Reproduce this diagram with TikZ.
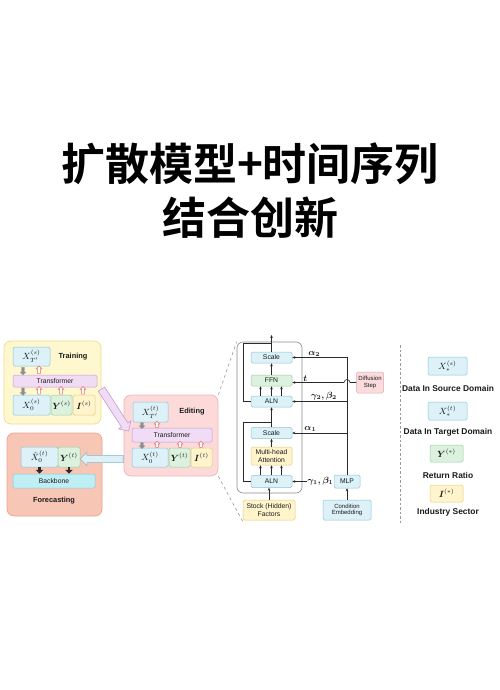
\documentclass[tikz,border=0pt]{standalone}
\usepackage{amsmath}
\usepackage{fontspec}
\setmainfont{Liberation Sans}
\newfontfamily\cjkfont{Noto Sans CJK SC}[BoldFont={Noto Sans CJK SC Bold}]
\definecolor{Bluecol}{HTML}{DCF1F8}
\definecolor{Blueline}{HTML}{8DC3D4}
\definecolor{Greencol}{HTML}{DCF2DE}
\definecolor{Greenline}{HTML}{98CDA0}
\definecolor{Yelcol}{HTML}{FFF4CC}
\definecolor{Yelline}{HTML}{E5CC7A}
\definecolor{Purpcol}{HTML}{F1DCF5}
\definecolor{Purpline}{HTML}{C79AD3}
\definecolor{Cyancol}{HTML}{BFEEF4}
\definecolor{Cyanline}{HTML}{86CBD5}
\definecolor{Traincol}{HTML}{FFF8CE}
\definecolor{Trainline}{HTML}{F2D98E}
\definecolor{Editcol}{HTML}{FCDADA}
\definecolor{Editline}{HTML}{F3B5B5}
\definecolor{Forecol}{HTML}{F7C6B5}
\definecolor{Foreline}{HTML}{EAA590}
\definecolor{Stepcol}{HTML}{FADBDE}
\definecolor{Stepline}{HTML}{E8A5AC}
\definecolor{Upcol}{HTML}{E56F6C}
\definecolor{Dncol}{HTML}{8E8E8E}
\definecolor{Linecol}{HTML}{2A2A2A}
\definecolor{Dashcol}{HTML}{9A9A9A}
\definecolor{Textcol}{HTML}{1A1A1A}
\usetikzlibrary{calc, arrows.meta, positioning, shapes.arrows}
\tikzset{
    >={Stealth[length=3pt, width=2.6pt]},
    font=\fontsize{6.8}{7.6}\selectfont,
    box/.style={draw=#1line, fill=#1col, rounded corners=1.5pt, line width=0.5pt,
        inner sep=0pt, align=center, text=Textcol},
    panel/.style={draw=#1line, fill=#1col, rounded corners=7pt, line width=0.7pt},
    mathtx/.style={font=\fontsize{8.6}{9.5}\selectfont},
    cond/.style={font=\fontsize{9.2}{10}\selectfont, text=Textcol, inner sep=1pt},
    small/.style={font=\fontsize{6}{6.8}\selectfont},
    head/.style={font=\fontsize{7.4}{8}\selectfont\bfseries, text=Textcol},
    legend/.style={font=\fontsize{8.4}{9}\selectfont\bfseries, text=Textcol},
    title/.style={font=\cjkfont\bfseries\fontsize{44}{50}\selectfont, text=black},
    uparr/.style={single arrow, draw=Upcol, fill=white, rotate=90, minimum height=7.5pt,
        inner sep=1.2pt, single arrow head extend=1.4pt, line width=0.5pt},
    dnarr/.style={single arrow, draw=Dncol, fill=Dncol, rotate=270, minimum height=7.5pt,
        inner sep=1.3pt, single arrow head extend=1.5pt, line width=0.3pt},
    flow/.style={->, draw=Linecol, line width=0.6pt},
    plain/.style={draw=Linecol, line width=0.6pt},
    zoomline/.style={dashed, draw=Dashcol, line width=0.6pt}
}

\begin{document}
\begin{tikzpicture}[x=1pt, y=-1pt]
    % Canvas
    \useasboundingbox[fill=white] (0,0) rectangle (500,690);

    % Title
    \node[title] (title1) at (250,164) {扩散模型+时间序列};
    \node[title] (title2) at (250,218) {结合创新};

    % Training
    \node[panel=Train, minimum width=97pt, minimum height=83pt] (train) at (52.5,382.5) {};
    \node[box=Blue, mathtx, minimum width=37pt, minimum height=19pt] (xts) at (31.5,356.5) {$X_{T'}^{(s)}$};
    \node[head] (trainlab) at (73,357) {Training};
    \node[box=Purp, minimum width=84pt, minimum height=12pt] (trs) at (55,381) {Transformer};
    \node[box=Blue, mathtx, minimum width=37pt, minimum height=20pt] (x0s) at (31.5,405) {$X_0^{(s)}$};
    \node[box=Green, mathtx, minimum width=21pt, minimum height=20pt] (ys) at (61.5,405) {$\boldsymbol{Y}^{(s)}$};
    \node[box=Yel, mathtx, minimum width=22pt, minimum height=20pt] (is) at (84,405) {$\boldsymbol{I}^{(s)}$};
    \node[dnarr] (ds1) at (23,370.5) {};
    \node[uparr] (us1) at (39,370.5) {};
    \node[dnarr] (ds2) at (23,391) {};
    \foreach \x in {39,61,83}
        \node[uparr] at (\x,391) {};

    % Forecasting
    \node[panel=Fore, minimum width=95pt, minimum height=83pt] (fore) at (54.5,474.5) {};
    \node[box=Blue, mathtx, minimum width=37pt, minimum height=20pt] (xhat) at (39.5,457) {${\hat{X}}_0^{(t)}$};
    \node[box=Green, mathtx, minimum width=22pt, minimum height=20pt] (yf) at (69,457) {$\boldsymbol{Y}^{(t)}$};
    \node[box=Cyan, minimum width=82pt, minimum height=14pt] (bb) at (54,481) {Backbone};
    \node[head] (forelab) at (54,501) {Forecasting};
    \draw[Linecol, line width=2.2pt, -{Triangle[length=4pt, width=7.5pt]}] (xhat.south) -- (xhat.south |- bb.north);
    \draw[Linecol, line width=2.2pt, -{Triangle[length=4pt, width=7.5pt]}] (yf.south) -- (yf.south |- bb.north);

    % Editing
    \node[panel=Edit, minimum width=94pt, minimum height=81pt] (edit) at (171,435.5) {};
    \node[box=Blue, mathtx, minimum width=35pt, minimum height=20pt] (xtt) at (150.5,412) {$X_{T'}^{(t)}$};
    \node[head] (editlab) at (192,412) {Editing};
    \node[box=Purp, minimum width=80pt, minimum height=14pt] (trt) at (172,435) {Transformer};
    \node[box=Blue, mathtx, minimum width=36pt, minimum height=19pt] (x0t) at (150,457.5) {$X_0^{(t)}$};
    \node[box=Green, mathtx, minimum width=21pt, minimum height=19pt] (yt) at (179.5,457.5) {$\boldsymbol{Y}^{(t)}$};
    \node[box=Yel, mathtx, minimum width=21pt, minimum height=19pt] (it) at (201.5,457.5) {$\boldsymbol{I}^{(t)}$};
    \node[dnarr, minimum height=6pt] (dt1) at (142,425) {};
    \node[uparr, minimum height=6pt] (ut1) at (157,425) {};
    \node[dnarr, minimum height=6pt] (dt2) at (142,445) {};
    \foreach \x in {157,180,201}
        \node[uparr, minimum height=6pt] at (\x,445) {};

    % Big arrows between panels
    \node[single arrow, draw=Purpline, fill=Purpcol, rotate=-57, minimum height=50pt,
        inner sep=3.5pt, single arrow head extend=3.5pt, line width=0.6pt] (t2e) at (114,408.5) {};
    \node[single arrow, draw=Blueline!80!gray, fill=Bluecol, rotate=180, minimum height=43pt,
        inner sep=3.3pt, single arrow head extend=3pt, line width=0.6pt] (e2f) at (103.5,459) {};

    % Zoom lines
    \coordinate (zlow) at (243,522);
    \node[draw=Dashcol!90!black, fill=white, rounded corners=6pt, line width=0.6pt,
        minimum width=65pt, minimum height=151pt] (det) at (269.5,417.5) {};
    \draw[zoomline] (edit.north east) -- (det.north west);
    \draw[zoomline] (edit.south east) -- (zlow);

    % Transformer block
    \node[box=Blue, minimum width=41pt, minimum height=11pt] (sc2) at (271.5,357.5) {Scale};
    \node[box=Green, minimum width=41pt, minimum height=11pt] (ffn) at (271.5,380.5) {FFN};
    \node[box=Blue, minimum width=41pt, minimum height=11pt] (aln2) at (271.5,401.5) {ALN};
    \node[box=Blue, minimum width=41pt, minimum height=11pt] (sc1) at (271.5,433) {Scale};
    \node[box=Yel, minimum width=41pt, minimum height=18pt] (mha) at (271.5,456) {Multi-head\\Attention};
    \node[box=Blue, minimum width=41pt, minimum height=12pt] (aln1) at (271.5,481.5) {ALN};
    \node[box=Yel, minimum width=52pt, minimum height=20pt] (stock) at (269,510) {Stock (Hidden)\\Factors};
    \coordinate (out) at (271.5,335);

    \draw[flow] (stock.north) -- (stock.north |- aln1.south);
    \foreach \dx in {-11,0,10} {
        \draw[flow] ($(aln1.north)+(\dx,0)$) -- ($(mha.south)+(\dx,0)$);
        \draw[flow] ($(aln2.north)+(\dx,0)$) -- ($(ffn.south)+(\dx,0)$);
    }
    \draw[flow] (mha.north) -- (sc1.south);
    \draw[flow] (sc1.north) -- (aln2.south);
    \draw[flow] (ffn.north) -- (sc2.south);
    \draw[flow] (sc2.north) -- (out);

    % Residual paths
    \draw[plain] (aln1.west) -| (243,422) -- (271.5,422);
    \draw[plain] (aln2.west) -| (243,343) -- (271.5,343);

    % Conditions
    \node[box=Blue, small, minimum width=48pt, minimum height=20pt] (cond) at (347,510) {Condition\\Embedding};
    \node[box=Blue, minimum width=26pt, minimum height=13pt] (mlp) at (347,481.5) {MLP};
    \node[box=Step, small, minimum width=27pt, minimum height=21pt] (step) at (370,382.5) {Diffusion\\Step};

    \draw[flow] (cond.north) -- (mlp.south);
    \draw[flow] (mlp.north) |- (sc2.east) node[pos=0.8, above, cond] {$\boldsymbol{\alpha_2}$};
    \draw[flow] (mlp.north |- aln2.east) -- (aln2.east) node[pos=0.42, above, cond] {$\boldsymbol{\gamma_2, \beta_2}$};
    \draw[flow] (mlp.north |- sc1.east) -- (sc1.east) node[pos=0.67, above, cond] {$\boldsymbol{\alpha_1}$};
    \draw[flow] (mlp.west) -- (aln1.east) node[pos=0.32, fill=white, cond, inner sep=0.3pt] {$\boldsymbol{\gamma_1, \beta_1}$};
    \draw[flow] (step.west) -- ($(mlp.north |- step.west)+(3,0)$)
        arc[start angle=0, end angle=180, radius=3pt] -- (ffn.east |- step.west)
        node[pos=0.75, above, cond] {$\boldsymbol{t}$};

    % Separator
    \coordinate (sepTop) at (400,345);
    \coordinate (sepBot) at (400,523);
    \draw[zoomline, dash pattern=on 2.5pt off 2pt] (sepTop) -- (sepBot);

    % Legend
    \node[box=Blue, mathtx, minimum width=39pt, minimum height=18pt] (lgs) at (447.5,366) {$X_{\ast}^{(s)}$};
    \node[legend] (lgslab) at (448,388) {Data In Source Domain};
    \node[box=Blue, mathtx, minimum width=39pt, minimum height=18pt] (lgt) at (447.5,411) {$X_{\ast}^{(t)}$};
    \node[legend] (lgtlab) at (448,432) {Data In Target Domain};
    \node[box=Green, mathtx, minimum width=33pt, minimum height=17pt] (lgy) at (446.5,453.5) {$\boldsymbol{Y}^{(\ast)}$};
    \node[legend] (lgylab) at (448,475) {Return Ratio};
    \node[box=Yel, mathtx, minimum width=33pt, minimum height=17pt] (lgi) at (446.5,493.5) {$\boldsymbol{I}^{(\ast)}$};
    \node[legend] (lgilab) at (448,512) {Industry Sector};
\end{tikzpicture}
\end{document}
